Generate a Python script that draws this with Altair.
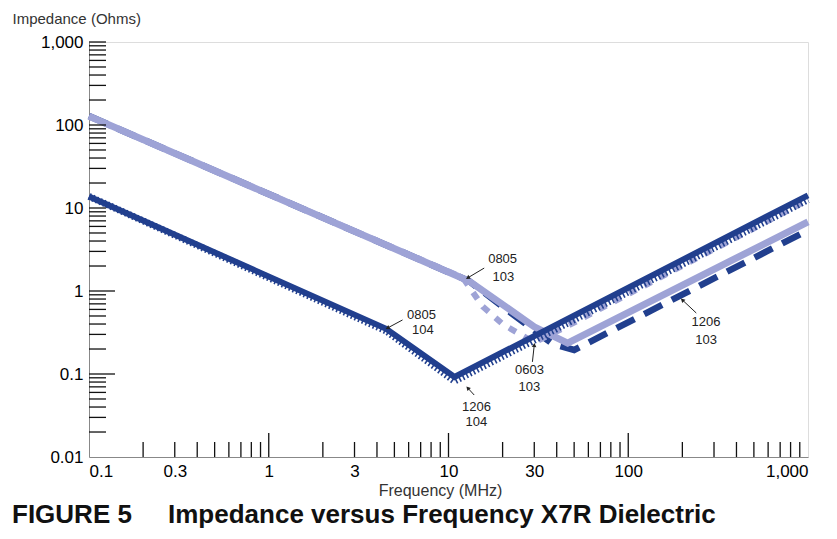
import math
import altair as alt
import pandas as pd

# ---------------- data ----------------
f_1206_103 = [0.1, 13, 25, 38, 50, 1000]
z_1206_103 = [128, 1.32, 0.45, 0.23, 0.195, 5.4]

f_0603_103 = [0.1, 12, 15.5, 20, 30, 45, 1000]
z_0603_103 = [126, 1.45, 0.65, 0.40, 0.24, 0.37, 12.5]

f_0805_103 = [0.1, 13, 30, 46, 1000]
z_0805_103 = [128, 1.32, 0.37, 0.236, 6.8]

f_0805_104 = [0.1, 4.5, 10.8, 1000]
z_0805_104 = [13.8, 0.35, 0.092, 14.2]

f_1206_104 = [0.1, 4.5, 10.8, 1000]
z_1206_104 = [13.8, 0.33, 0.082, 12.6]

# annotation text lines
ann_text = ["0805", "103", "0805", "104", "1206", "104", "0603", "103", "1206", "103"]
ann_f = [20.0, 20.2, 7.08, 7.2, 14.3, 14.3, 28.2, 28.2, 271, 271]
ann_z = [2.43, 1.48, 0.514, 0.339, 0.040, 0.0264, 0.112, 0.0697, 0.423, 0.257]

# annotation arrows (tail -> head)
arr_f1 = [15.8, 5.55, 13.9, 29.3, 239]
arr_z1 = [1.89, 0.448, 0.0558, 0.14, 0.543]
arr_f2 = [12.8, 4.58, 12.8, 30.0, 200]
arr_z2 = [1.44, 0.358, 0.0678, 0.223, 0.78]

# axis ticks / labels
x_labels = [0.1, 0.3, 1, 3, 10, 30, 100, 1000]
y_labels = [0.01, 0.1, 1, 10, 100, 1000]
tick_mult = [2, 3, 4, 5, 6, 7, 8, 9]
x_minor = [m * 10 ** k for k in [-1, 0, 1, 2] for m in tick_mult]
x_major = [1, 10, 100]
y_minor = [m * 10 ** k for k in [-2, -1, 0, 1, 2] for m in tick_mult] + [10, 100, 1000]
y_major = [0.1, 1]

# ---------------- layout / style ----------------
W, H = 719, 415
DARK = "#213f8e"
LAV = "#9ea3d6"
FONT = "Liberation Sans"

xscale = alt.Scale(type="log", domain=[0.1, 1000], nice=False)
yscale = alt.Scale(type="log", domain=[0.01, 1000], nice=False)

xaxis = alt.Axis(values=x_labels, labelExpr="format(datum.value, ',')", ticks=False,
                 grid=False, labelOverlap=False, labelBound=False, labelPadding=6,
                 labelFontSize=17, title="Frequency (MHz)", titleFontSize=16,
                 titleFontWeight="normal", titleX=351, titleY=33,
                 titleAlign="center", titleBaseline="middle", titleColor="#333")
yaxis = alt.Axis(values=y_labels, labelExpr="format(datum.value, ',')", ticks=False,
                 grid=False, labelOverlap=False, labelBound=False, labelPadding=6,
                 labelFontSize=17, title="Impedance (Ohms)", titleFontSize=15,
                 titleFontWeight="normal", titleAngle=0, titleAlign="left",
                 titleBaseline="middle", titleX=-77, titleY=-24, titleColor="#333")


def X(field="f"):
    return alt.X(f"{field}:Q", scale=xscale, axis=xaxis)


def Y(field="z"):
    return alt.Y(f"{field}:Q", scale=yscale, axis=yaxis)


def series(f, z):
    return pd.DataFrame({"f": f, "z": z, "i": list(range(len(f)))})


def line(df, **kw):
    return alt.Chart(df).mark_line(strokeCap="butt", strokeJoin="miter", **kw).encode(
        x=X(), y=Y(), order="i:O")


d_1206_103 = series(f_1206_103, z_1206_103)
d_0603_103 = series(f_0603_103, z_0603_103)
d_0805_103 = series(f_0805_103, z_0805_103)
d_0805_104 = series(f_0805_104, z_0805_104)
d_1206_104 = series(f_1206_104, z_1206_104)

l1 = line(d_1206_103, color=DARK, strokeWidth=6.5, strokeDash=[20, 11])
l2 = line(d_0603_103, color=LAV, strokeWidth=6, strokeDash=[8, 9])
l3 = line(d_0805_103, color=LAV, strokeWidth=7)
l5 = line(d_1206_104, color=DARK, strokeWidth=7, strokeDash=[1.6, 2.4])
l4 = line(d_0805_104, color=DARK, strokeWidth=6)

# ticks drawn inward
ty_major = alt.Chart(pd.DataFrame({"v": y_major})).mark_rule(color="#111", strokeWidth=1.3).encode(
    y=Y("v"), x=alt.value(0), x2=alt.value(26))
ty_minor = alt.Chart(pd.DataFrame({"v": y_minor})).mark_rule(color="#111", strokeWidth=1.3).encode(
    y=Y("v"), x=alt.value(0), x2=alt.value(17))
tx_major = alt.Chart(pd.DataFrame({"v": x_major})).mark_rule(color="#111", strokeWidth=1.3).encode(
    x=X("v"), y=alt.value(H), y2=alt.value(H - 24))
tx_minor = alt.Chart(pd.DataFrame({"v": x_minor})).mark_rule(color="#111", strokeWidth=1.3).encode(
    x=X("v"), y=alt.value(H), y2=alt.value(H - 15))

# annotations
ann = pd.DataFrame({"t": ann_text, "f": ann_f, "z": ann_z})
texts = alt.Chart(ann).mark_text(font=FONT, fontSize=13, color="#222", baseline="middle",
                                 align="center").encode(x=X(), y=Y(), text="t:N")

px_dec_x = W / 4
px_dec_y = H / 5
angles = []
for a, b, c, d in zip(arr_f1, arr_z1, arr_f2, arr_z2):
    dx = px_dec_x * (math.log10(c) - math.log10(a))
    dy = -px_dec_y * (math.log10(d) - math.log10(b))
    angles.append(math.degrees(math.atan2(dx, -dy)) % 360)
arr = pd.DataFrame({"f1": arr_f1, "z1": arr_z1, "f2": arr_f2, "z2": arr_z2, "ang": angles})
arrows = alt.Chart(arr).mark_rule(color="#222", strokeWidth=1).encode(
    x=X("f1"), y=Y("z1"), x2="f2:Q", y2="z2:Q")
heads = alt.Chart(arr).mark_point(shape="triangle-up", filled=True, color="#222", size=22,
                                  opacity=1).encode(
    x=X("f2"), y=Y("z2"), angle=alt.Angle("ang:Q", scale=None))

chart = alt.layer(
    l1, l2, l3, l5, l4, ty_major, ty_minor, tx_major, tx_minor, arrows, heads, texts
).properties(
    width=W, height=H,
    padding={"left": 81, "top": 34, "right": 21, "bottom": 74},
    autosize=alt.AutoSizeParams(type="none"),
    title=alt.TitleParams(
        "FIGURE 5\u00a0\u00a0\u00a0\u00a0\u00a0Impedance versus Frequency X7R Dielectric",
        orient="bottom", anchor="start", frame="group", dx=-77, offset=4,
        fontSize=26, fontWeight="bold", font=FONT, color="#111"),
).configure_view(
    stroke="#111", strokeWidth=1.3
).configure_axis(
    domainColor="#111", domainWidth=1.3, labelFont=FONT, titleFont=FONT, labelColor="#222"
).configure(background="white")

chart.save("out.html", embed_options={"renderer": "svg", "actions": False})
